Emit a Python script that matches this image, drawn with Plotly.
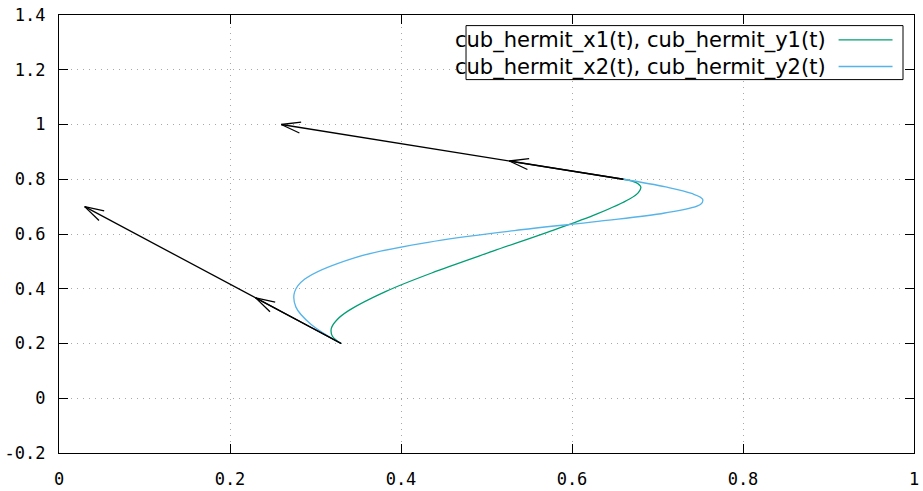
import math
import plotly.graph_objects as go

# ---- data ----
curve1_x = [0.33, 0.3198, 0.3185, 0.3252, 0.3387, 0.3824, 0.4414, 0.5075, 0.5726, 0.6286, 0.6673, 0.6776, 0.6805, 0.6750, 0.66]
curve1_y = [0.2, 0.2264, 0.2555, 0.2868, 0.3200, 0.3905, 0.4640, 0.5375, 0.6080, 0.6725, 0.7280, 0.7514, 0.7715, 0.7878, 0.8]
curve2_x = [0.33, 0.2946, 0.2771, 0.2755, 0.2875, 0.3446, 0.4318, 0.5325, 0.6302, 0.7084, 0.7505, 0.7528, 0.7399, 0.7096, 0.66]
curve2_y = [0.2, 0.2706, 0.3329, 0.3875, 0.4352, 0.5123, 0.5696, 0.6125, 0.6464, 0.6767, 0.7088, 0.7272, 0.7481, 0.7721, 0.8]

arrow_tail_x = [0.33, 0.33, 0.66, 0.66]
arrow_tail_y = [0.2, 0.2, 0.8, 0.8]
arrow_tip_x = [0.03, 0.23, 0.26, 0.5267]
arrow_tip_y = [0.7, 0.3667, 1.0, 0.8667]

legend_labels = ["cub_hermit_x1(t), cub_hermit_y1(t)", "cub_hermit_x2(t), cub_hermit_y2(t)"]

x_tickvals = [0, 0.2, 0.4, 0.6, 0.8, 1]
x_ticktext = ["0", "0.2", "0.4", "0.6", "0.8", "1"]
y_tickvals = [-0.2, 0, 0.2, 0.4, 0.6, 0.8, 1, 1.2, 1.4]
y_ticktext = ["-0.2", "0", "0.2", "0.4", "0.6", "0.8", "1", "1.2", "1.4"]

# ---- layout constants ----
W, H = 923, 491
ML, MR, MT, MB = 58.5, 8.5, 14.7, 38.3
XR = [0, 1]
YR = [-0.2, 1.4]
sx = (W - ML - MR) / (XR[1] - XR[0])
sy = (H - MT - MB) / (YR[1] - YR[0])

GREEN = "#009e73"
BLUE = "#56b4e9"

fig = go.Figure()
fig.add_trace(go.Scatter(x=curve1_x, y=curve1_y, mode="lines",
                         line=dict(color=GREEN, width=1.3, shape="spline"),
                         name=legend_labels[0], showlegend=False))
fig.add_trace(go.Scatter(x=curve2_x, y=curve2_y, mode="lines",
                         line=dict(color=BLUE, width=1.3, shape="spline"),
                         name=legend_labels[1], showlegend=False))

# arrows with open heads (gnuplot style)
HEAD_LEN = 20.0
HEAD_ANG = math.radians(16)
ax_pts, ay_pts = [], []
for tx, ty, hx, hy in zip(arrow_tail_x, arrow_tail_y, arrow_tip_x, arrow_tip_y):
    ax_pts += [tx, hx, None]
    ay_pts += [ty, hy, None]
    dxp = (tx - hx) * sx
    dyp = (ty - hy) * sy
    n = math.hypot(dxp, dyp)
    ux, uy = dxp / n, dyp / n
    for s in (1, -1):
        c, si = math.cos(s * HEAD_ANG), math.sin(s * HEAD_ANG)
        bx = ux * c - uy * si
        by = ux * si + uy * c
        ax_pts += [hx + bx * HEAD_LEN / sx, hx, None]
        ay_pts += [hy + by * HEAD_LEN / sy, hy, None]
fig.add_trace(go.Scatter(x=ax_pts, y=ay_pts, mode="lines",
                         line=dict(color="black", width=1.3),
                         showlegend=False, hoverinfo="skip"))

# ---- manual gnuplot-like legend (text left, sample right) ----
def px2paper_x(px):
    return (px - ML) / (W - ML - MR)

def px2paper_y(py):
    return (H - MB - py) / (H - MT - MB)

shapes = [dict(type="rect", xref="paper", yref="paper",
               x0=px2paper_x(466), x1=px2paper_x(903.5),
               y0=px2paper_y(79.3), y1=px2paper_y(25.3),
               line=dict(color="black", width=1), fillcolor="white", layer="above")]
annotations = []
for i, (lab, col) in enumerate(zip(legend_labels, [GREEN, BLUE])):
    yc = 39.5 + i * 26.7
    shapes.append(dict(type="line", xref="paper", yref="paper",
                       x0=px2paper_x(839), x1=px2paper_x(893),
                       y0=px2paper_y(yc), y1=px2paper_y(yc),
                       line=dict(color=col, width=1.3), layer="above"))
    annotations.append(dict(text=lab, xref="paper", yref="paper",
                            x=px2paper_x(828), y=px2paper_y(yc + 1),
                            xanchor="right", yanchor="middle", showarrow=False,
                            font=dict(family="DejaVu Sans", size=21, color="black")))

axis_common = dict(showgrid=True, gridcolor="#a8a8a8", gridwidth=1, griddash="1px,5px",
                   ticks="inside", ticklen=9, tickwidth=1, tickcolor="black",
                   showline=True, linecolor="black", linewidth=1.3, mirror="ticks",
                   zeroline=False, automargin=False,
                   tickfont=dict(family="DejaVu Sans Mono", size=17, color="black"))

fig.update_layout(
    width=W, height=H,
    margin=dict(l=ML, r=MR, t=MT, b=MB, pad=0, autoexpand=False),
    plot_bgcolor="white", paper_bgcolor="white",
    showlegend=False,
    xaxis=dict(range=XR, tickvals=x_tickvals, ticktext=x_ticktext,
               ticklabelstandoff=10, **axis_common),
    yaxis=dict(range=YR, tickvals=y_tickvals, ticktext=y_ticktext,
               ticklabelstandoff=9, **axis_common),
    shapes=shapes,
    annotations=annotations,
)

fig.write_html("out.html", config={"displayModeBar": False},
               post_script="document.body.style.margin='0';")
